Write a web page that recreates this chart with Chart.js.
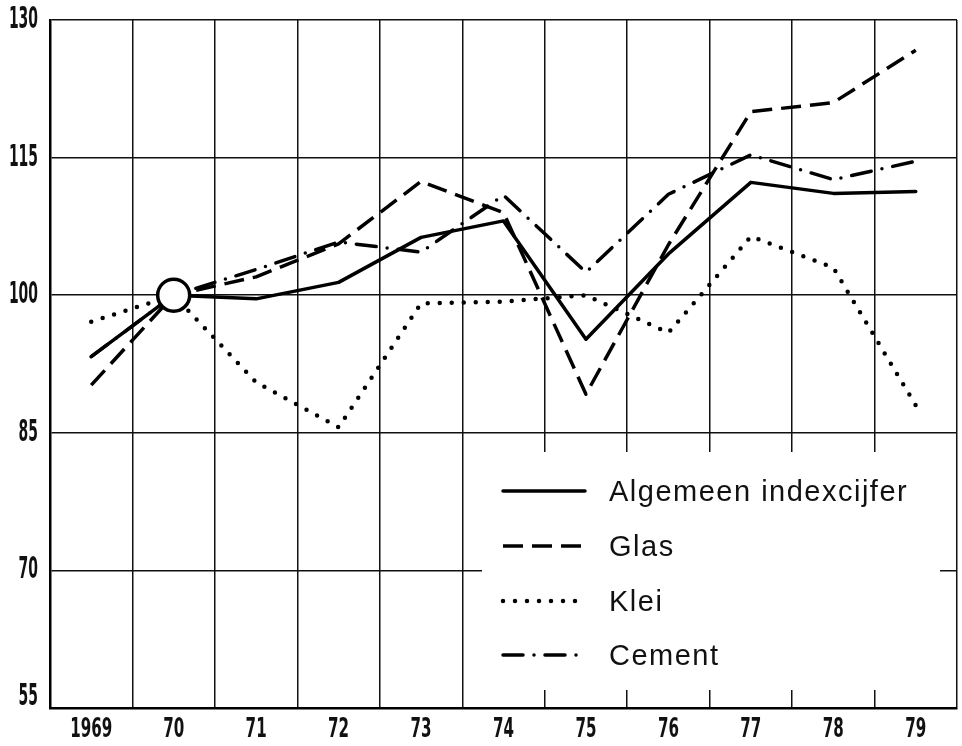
<!DOCTYPE html>
<html>
<head>
<meta charset="utf-8">
<script src="https://cdn.jsdelivr.net/npm/chart.js@4.4.1/dist/chart.umd.min.js"></script>
<style>
  body { margin: 0; background: #fff; }
  #wrap { width: 962px; height: 746px; }
</style>
</head>
<body>
<div id="wrap"><canvas id="chart" width="962" height="746"></canvas></div>
<script>
// values (index, 1970 = 100)
var years = ['1969', '70', '71', '72', '73', '74', '75', '76', '77', '78', '79'];
var algemeen = [93.3, 100, 99.6, 101.4, 106.3, 108.1, 95.2, 104.5, 112.3, 111.1, 111.3];
var glas = [90.2, 100, 102.0, 105.6, 112.4, 109.0, 89.2, 105.5, 120.0, 121.0, 126.7];
var klei = [97.1, 100, 90.5, 85.6, 99.1, 99.3, 100.0, 95.9, 106.4, 103.0, 88.0];
var cement = [93.3, 100, 102.8, 105.8, 104.7, 110.9, 102.5, 111.0, 115.3, 112.6, 114.6];
var yTicks = [55, 70, 85, 100, 115, 130];

var names = ['Algemeen indexcijfer', 'Glas', 'Klei', 'Cement'];
var dashes = [[], [20, 9], [0, 12], [20, 11, 0, 11]];
var widths = [3.5, 3.5, 4.5, 3.5];
var caps = ['round', 'butt', 'round', 'round'];

// narrow, tall numerals like the printed original
function narrowText(ctx, text, x, y, size, sx, align) {
    ctx.save();
    ctx.translate(x, y);
    ctx.scale(sx, 1);
    ctx.font = 'bold ' + size + 'px "DejaVu Sans"';
    ctx.fillStyle = '#111';
    ctx.textAlign = align;
    ctx.textBaseline = 'middle';
    ctx.fillText(text, 0, 0);
    ctx.restore();
}

var paperPlugin = {
    id: 'paper',
    beforeDatasetsDraw: function(chart) {
        // white patch behind the legend that hides the grid
        var ctx = chart.ctx;
        ctx.save();
        ctx.fillStyle = '#fff';
        ctx.fillRect(482, 452, 458, 238);
        ctx.restore();
    },
    afterDraw: function(chart) {
        var ctx = chart.ctx;
        var xs = chart.scales.x, ys = chart.scales.y;

        // axis numbers
        yTicks.forEach(function(v) {
            var py = ys.getPixelForValue(v);
            if (v === 55) py -= 11;
            narrowText(ctx, String(v), 38, py, 31, 0.45, 'right');
        });
        years.forEach(function(lab, i) {
            narrowText(ctx, lab, xs.getPixelForValue(i), 730, 27, 0.56, 'center');
        });

        // legend
        var rows = [491, 546, 601, 655];
        ctx.save();
        rows.forEach(function(ry, i) {
            ctx.beginPath();
            ctx.strokeStyle = '#000';
            ctx.lineWidth = widths[i];
            ctx.lineCap = caps[i];
            ctx.setLineDash(dashes[i]);
            ctx.moveTo(503, ry);
            ctx.lineTo(585, ry);
            ctx.stroke();
            ctx.setLineDash([]);
            ctx.font = '29px "Liberation Sans", Arial, sans-serif';
            ctx.letterSpacing = '1.5px';
            ctx.fillStyle = '#111';
            ctx.textAlign = 'left';
            ctx.textBaseline = 'middle';
            ctx.fillText(names[i], 609, ry + 2);
        });
        ctx.restore();
    }
};

function lineSet(label, data, i) {
    return {
        label: label,
        data: data,
        borderColor: '#000',
        borderWidth: widths[i],
        borderDash: dashes[i],
        borderCapStyle: caps[i],
        borderJoinStyle: 'round',
        tension: 0,
        fill: false,
        pointRadius: 0,
        pointHoverRadius: 0
    };
}

var sets = [
    lineSet(names[0], algemeen, 0),
    lineSet(names[1], glas, 1),
    lineSet(names[2], klei, 2),
    lineSet(names[3], cement, 3)
];
// the open ring marking the base year 1970
sets[0].pointRadius = years.map(function(y) { return y === '70' ? 16 : 0; });
sets[0].pointBackgroundColor = '#fff';
sets[0].pointBorderColor = '#000';
sets[0].pointBorderWidth = 3.5;

new Chart(document.getElementById('chart').getContext('2d'), {
    type: 'line',
    data: { labels: years, datasets: sets },
    plugins: [paperPlugin],
    options: {
        responsive: false,
        animation: false,
        layout: { padding: { left: 50, top: 20, right: 5, bottom: 38 } },
        plugins: { legend: { display: false }, tooltip: { enabled: false } },
        scales: {
            x: {
                offset: true,
                grid: { offset: true, color: '#111', lineWidth: 1.5, drawTicks: false },
                border: { color: '#000', width: 2.5 },
                ticks: { display: false }
            },
            y: {
                min: 55,
                max: 130,
                ticks: { display: false, stepSize: 15 },
                grid: { color: '#111', lineWidth: 1.5, drawTicks: false },
                border: { color: '#000', width: 2.5 }
            }
        }
    }
});
</script>
</body>
</html>
